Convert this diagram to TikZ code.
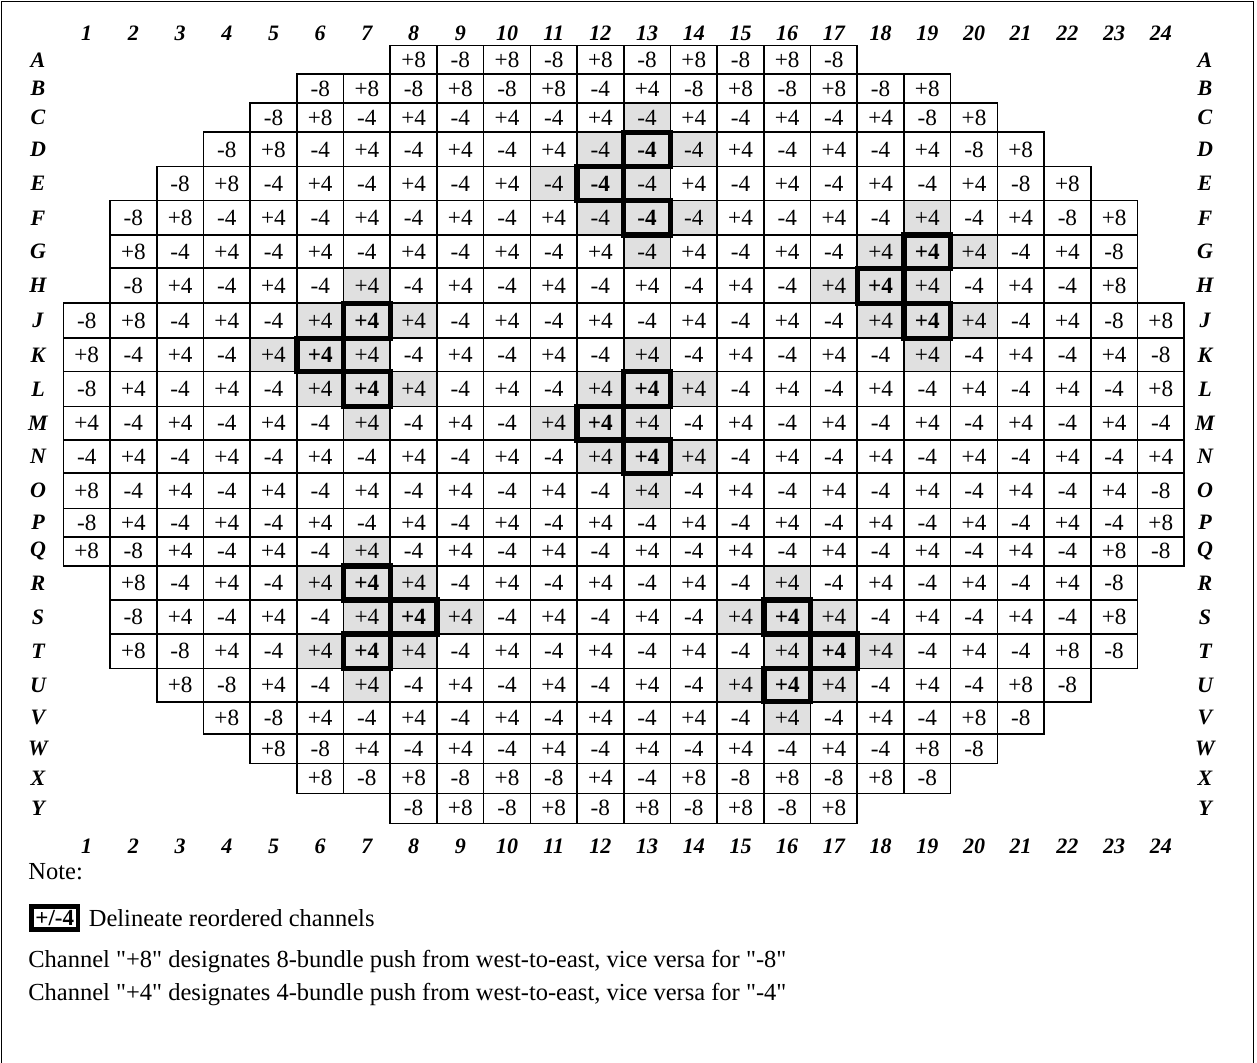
\documentclass[tikz,border=0pt]{standalone}
\usepackage{fontspec}
\setmainfont{Liberation Serif}
\usetikzlibrary{positioning}

\tikzset{
  cell/.style={draw, line width=0.8pt, inner sep=0pt, outer sep=0pt,
               minimum width=23.35pt, font=\fontsize{11.6}{13}\selectfont},
  pl/.style={},
  gr/.style={fill=black!12},
  bx/.style={fill=black!12, font=\fontsize{11.6}{13}\selectfont\bfseries},
  boxline/.style={line width=2.7pt},
  lbl/.style={font=\fontsize{11}{12}\selectfont\bfseries\itshape},
  note/.style={font=\fontsize{12.25}{14}\selectfont, anchor=west, inner sep=0pt},
}

\begin{document}
\begin{tikzpicture}[x=0.5pt, y=-0.5pt]

\useasboundingbox (0,0) rectangle (1257,1063);

% ---- outer frame ----
\draw[line width=0.8pt] (1.5,1063) -- (1.5,1.5) -- (1253.5,1.5) -- (1253.5,1063);

% ---- column numbers ----
\foreach \c in {1,...,24} {
  \node[lbl] (top-\c) at ({40+46.7*\c},33) {\c};
  \node[lbl] (bot-\c) at ({40+46.7*\c},846.7) {\c};
}

% ---- channel grid: row / top / bottom / first column / cells ----
\foreach \r/\top/\bot/\first/\vals in {
  A/45.7/74.3/8/{pl/+8,pl/-8,pl/+8,pl/-8,pl/+8,pl/-8,pl/+8,pl/-8,pl/+8,pl/-8},
  B/74.3/103.3/6/{pl/-8,pl/+8,pl/-8,pl/+8,pl/-8,pl/+8,pl/-4,pl/+4,pl/-8,pl/+8,pl/-8,pl/+8,pl/-8,pl/+8},
  C/103.3/132.3/5/{pl/-8,pl/+8,pl/-4,pl/+4,pl/-4,pl/+4,pl/-4,pl/+4,gr/-4,pl/+4,pl/-4,pl/+4,pl/-4,pl/+4,pl/-8,pl/+8},
  D/132.3/166.7/4/{pl/-8,pl/+8,pl/-4,pl/+4,pl/-4,pl/+4,pl/-4,pl/+4,gr/-4,bx/-4,gr/-4,pl/+4,pl/-4,pl/+4,pl/-4,pl/+4,pl/-8,pl/+8},
  E/166.7/200.7/3/{pl/-8,pl/+8,pl/-4,pl/+4,pl/-4,pl/+4,pl/-4,pl/+4,gr/-4,bx/-4,gr/-4,pl/+4,pl/-4,pl/+4,pl/-4,pl/+4,pl/-4,pl/+4,pl/-8,pl/+8},
  F/200.7/235/2/{pl/-8,pl/+8,pl/-4,pl/+4,pl/-4,pl/+4,pl/-4,pl/+4,pl/-4,pl/+4,gr/-4,bx/-4,gr/-4,pl/+4,pl/-4,pl/+4,pl/-4,gr/+4,pl/-4,pl/+4,pl/-8,pl/+8},
  G/235/268.3/2/{pl/+8,pl/-4,pl/+4,pl/-4,pl/+4,pl/-4,pl/+4,pl/-4,pl/+4,pl/-4,pl/+4,gr/-4,pl/+4,pl/-4,pl/+4,pl/-4,gr/+4,bx/+4,gr/+4,pl/-4,pl/+4,pl/-8},
  H/268.3/303.3/2/{pl/-8,pl/+4,pl/-4,pl/+4,pl/-4,gr/+4,pl/-4,pl/+4,pl/-4,pl/+4,pl/-4,pl/+4,pl/-4,pl/+4,pl/-4,gr/+4,bx/+4,gr/+4,pl/-4,pl/+4,pl/-4,pl/+8},
  J/303.3/338.3/1/{pl/-8,pl/+8,pl/-4,pl/+4,pl/-4,gr/+4,bx/+4,gr/+4,pl/-4,pl/+4,pl/-4,pl/+4,pl/-4,pl/+4,pl/-4,pl/+4,pl/-4,gr/+4,bx/+4,gr/+4,pl/-4,pl/+4,pl/-8,pl/+8},
  K/338.3/371.7/1/{pl/+8,pl/-4,pl/+4,pl/-4,gr/+4,bx/+4,gr/+4,pl/-4,pl/+4,pl/-4,pl/+4,pl/-4,gr/+4,pl/-4,pl/+4,pl/-4,pl/+4,pl/-4,gr/+4,pl/-4,pl/+4,pl/-4,pl/+4,pl/-8},
  L/371.7/406.7/1/{pl/-8,pl/+4,pl/-4,pl/+4,pl/-4,gr/+4,bx/+4,gr/+4,pl/-4,pl/+4,pl/-4,gr/+4,bx/+4,gr/+4,pl/-4,pl/+4,pl/-4,pl/+4,pl/-4,pl/+4,pl/-4,pl/+4,pl/-4,pl/+8},
  M/406.7/440/1/{pl/+4,pl/-4,pl/+4,pl/-4,pl/+4,pl/-4,gr/+4,pl/-4,pl/+4,pl/-4,gr/+4,bx/+4,gr/+4,pl/-4,pl/+4,pl/-4,pl/+4,pl/-4,pl/+4,pl/-4,pl/+4,pl/-4,pl/+4,pl/-4},
  N/440/473.3/1/{pl/-4,pl/+4,pl/-4,pl/+4,pl/-4,pl/+4,pl/-4,pl/+4,pl/-4,pl/+4,pl/-4,gr/+4,bx/+4,gr/+4,pl/-4,pl/+4,pl/-4,pl/+4,pl/-4,pl/+4,pl/-4,pl/+4,pl/-4,pl/+4},
  O/473.3/508.3/1/{pl/+8,pl/-4,pl/+4,pl/-4,pl/+4,pl/-4,pl/+4,pl/-4,pl/+4,pl/-4,pl/+4,pl/-4,gr/+4,pl/-4,pl/+4,pl/-4,pl/+4,pl/-4,pl/+4,pl/-4,pl/+4,pl/-4,pl/+4,pl/-8},
  P/508.3/536.7/1/{pl/-8,pl/+4,pl/-4,pl/+4,pl/-4,pl/+4,pl/-4,pl/+4,pl/-4,pl/+4,pl/-4,pl/+4,pl/-4,pl/+4,pl/-4,pl/+4,pl/-4,pl/+4,pl/-4,pl/+4,pl/-4,pl/+4,pl/-4,pl/+8},
  Q/536.7/566/1/{pl/+8,pl/-8,pl/+4,pl/-4,pl/+4,pl/-4,gr/+4,pl/-4,pl/+4,pl/-4,pl/+4,pl/-4,pl/+4,pl/-4,pl/+4,pl/-4,pl/+4,pl/-4,pl/+4,pl/-4,pl/+4,pl/-4,pl/+8,pl/-8},
  R/566/600/2/{pl/+8,pl/-4,pl/+4,pl/-4,gr/+4,bx/+4,gr/+4,pl/-4,pl/+4,pl/-4,pl/+4,pl/-4,pl/+4,pl/-4,gr/+4,pl/-4,pl/+4,pl/-4,pl/+4,pl/-4,pl/+4,pl/-8},
  S/600/634/2/{pl/-8,pl/+4,pl/-4,pl/+4,pl/-4,gr/+4,bx/+4,gr/+4,pl/-4,pl/+4,pl/-4,pl/+4,pl/-4,gr/+4,bx/+4,gr/+4,pl/-4,pl/+4,pl/-4,pl/+4,pl/-4,pl/+8},
  T/634/668.3/2/{pl/+8,pl/-8,pl/+4,pl/-4,gr/+4,bx/+4,gr/+4,pl/-4,pl/+4,pl/-4,pl/+4,pl/-4,pl/+4,pl/-4,gr/+4,bx/+4,gr/+4,pl/-4,pl/+4,pl/-4,pl/+8,pl/-8},
  U/668.3/701.7/3/{pl/+8,pl/-8,pl/+4,pl/-4,gr/+4,pl/-4,pl/+4,pl/-4,pl/+4,pl/-4,pl/+4,pl/-4,gr/+4,bx/+4,gr/+4,pl/-4,pl/+4,pl/-4,pl/+8,pl/-8},
  V/701.7/734/4/{pl/+8,pl/-8,pl/+4,pl/-4,pl/+4,pl/-4,pl/+4,pl/-4,pl/+4,pl/-4,pl/+4,pl/-4,gr/+4,pl/-4,pl/+4,pl/-4,pl/+8,pl/-8},
  W/734/763.3/5/{pl/+8,pl/-8,pl/+4,pl/-4,pl/+4,pl/-4,pl/+4,pl/-4,pl/+4,pl/-4,pl/+4,pl/-4,pl/+4,pl/-4,pl/+8,pl/-8},
  X/763.3/793.3/6/{pl/+8,pl/-8,pl/+8,pl/-8,pl/+8,pl/-8,pl/+4,pl/-4,pl/+8,pl/-8,pl/+8,pl/-8,pl/+8,pl/-8},
  Y/793.3/823.3/8/{pl/-8,pl/+8,pl/-8,pl/+8,pl/-8,pl/+8,pl/-8,pl/+8,pl/-8,pl/+8}%
} {
  \pgfmathsetmacro\ym{(\top+\bot)/2}
  \pgfmathsetmacro\hh{(\bot-\top)/2}
  \node[lbl] (left-\r) at (38,\ym) {\r};
  \node[lbl] (right-\r) at (1205,\ym) {\r};
  \foreach [count=\c from \first] \s/\v in \vals
    \node[cell, \s, minimum height=\hh pt] (c-\r-\c) at ({40+46.7*\c},\ym) {\v};
}

% ---- reordered channels ----
\foreach \n in {D-13, E-12, F-13, G-19, H-18, J-19, J-7, K-6, L-7,
                L-13, M-12, N-13, R-7, S-8, T-7, S-16, T-17, U-16}
  \draw[boxline] (c-\n.south west) rectangle (c-\n.north east);

% ---- note ----
\node[note] (note) at (28,872) {Note:};
\node[draw, line width=2.4pt, inner sep=2pt, anchor=west,
      font=\fontsize{11.5}{13}\selectfont\bfseries] (key) at (29,918) {+/-4};
\node[note, right=4pt of key] (keytext) {Delineate reordered channels};
\node[note] (ch8) at (28,962)
  {Channel \textquotedbl+8\textquotedbl{} designates 8-bundle push from west-to-east,
   vice versa for \textquotedbl-8\textquotedbl};
\node[note] (ch4) at (28,995)
  {Channel \textquotedbl+4\textquotedbl{} designates 4-bundle push from west-to-east,
   vice versa for \textquotedbl-4\textquotedbl};

\end{tikzpicture}
\end{document}
